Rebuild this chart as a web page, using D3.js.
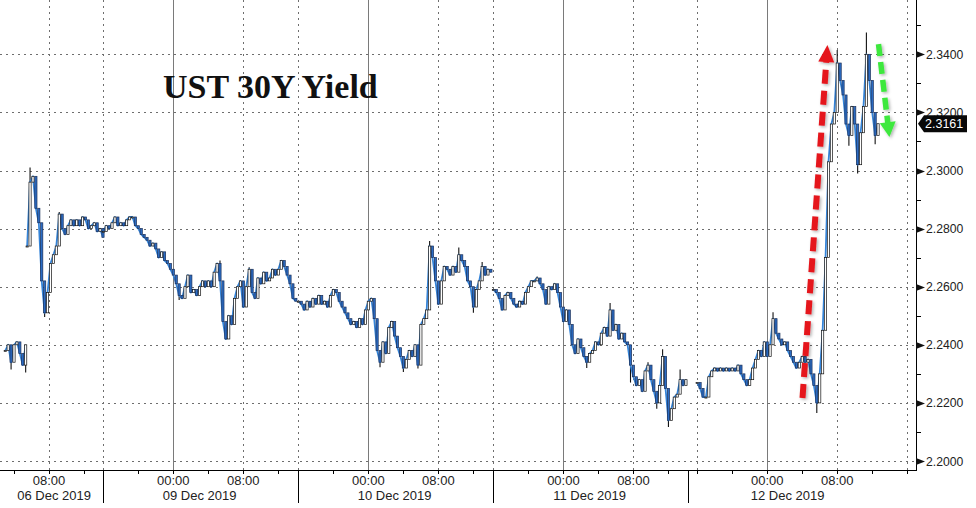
<!DOCTYPE html>
<html><head><meta charset="utf-8">
<script src="https://cdn.jsdelivr.net/npm/d3@7/dist/d3.min.js"></script>
<style>html,body{margin:0;padding:0;background:#fff;}svg{display:block;}</style>
</head><body>
<svg id="chart" width="976" height="508"></svg>
<script>
// ---------------- DATA ----------------
const title = "UST 30Y Yield";
const sessionDates = ["06 Dec 2019", "09 Dec 2019", "10 Dec 2019", "11 Dec 2019", "12 Dec 2019"];
const sessionOpen  = ["2019-12-06 02:24", "2019-12-08 16:00", "2019-12-09 16:00", "2019-12-10 16:00", "2019-12-11 15:00"];
const sessionClose = ["2019-12-06 14:12", "2019-12-09 14:17", "2019-12-10 14:17", "2019-12-11 14:17", "2019-12-12 17:00"];

const stepMinutes = 20;
const seriesStart = ["2019-12-06 03:00", "2019-12-06 05:30", "2019-12-08 16:00", "2019-12-09 16:00", "2019-12-10 16:00", "2019-12-11 16:00"];

const yieldDec06Early = [2.238, 2.240, 2.234, 2.240, 2.241, 2.237, 2.233, 2.240];
const yieldDec06 = [2.274, 2.296, 2.298, 2.287, 2.282, 2.262, 2.251, 2.258, 2.268, 2.271,
  2.274, 2.285, 2.280, 2.278, 2.281, 2.283, 2.281, 2.283, 2.281, 2.284,
  2.283, 2.280, 2.281, 2.282, 2.279, 2.280, 2.277];
const yieldDec09 = [2.279, 2.281, 2.280, 2.282, 2.284, 2.281, 2.282, 2.281, 2.283, 2.284,
  2.284, 2.281, 2.280, 2.278, 2.277, 2.276, 2.274, 2.275, 2.273, 2.270,
  2.272, 2.269, 2.268, 2.266, 2.264, 2.261, 2.257, 2.256, 2.260, 2.264,
  2.258, 2.259, 2.257, 2.260, 2.262, 2.260, 2.262, 2.260, 2.265, 2.268,
  2.262, 2.248, 2.242, 2.250, 2.247, 2.256, 2.260, 2.262, 2.253, 2.260,
  2.266, 2.258, 2.256, 2.263, 2.261, 2.265, 2.262, 2.263, 2.266, 2.264,
  2.266, 2.269, 2.267, 2.264, 2.261, 2.256, 2.255];
const yieldDec10 = [2.255, 2.254, 2.252, 2.255, 2.253, 2.256, 2.254, 2.257, 2.254, 2.255,
  2.253, 2.257, 2.259, 2.258, 2.255, 2.253, 2.251, 2.249, 2.247, 2.248,
  2.246, 2.249, 2.247, 2.252, 2.255, 2.256, 2.249, 2.238, 2.234, 2.241,
  2.237, 2.246, 2.248, 2.243, 2.239, 2.236, 2.232, 2.235, 2.238, 2.236,
  2.240, 2.233, 2.247, 2.249, 2.252, 2.274, 2.270, 2.262, 2.254, 2.262,
  2.267, 2.266, 2.264, 2.267, 2.265, 2.271, 2.269, 2.267, 2.262, 2.260,
  2.253, 2.259, 2.262, 2.267, 2.264, 2.266, 2.265];
const yieldDec11 = [2.259, 2.258, 2.256, 2.252, 2.257, 2.258, 2.256, 2.254, 2.253, 2.255,
  2.254, 2.258, 2.260, 2.262, 2.262, 2.263, 2.261, 2.259, 2.254, 2.260,
  2.259, 2.261, 2.258, 2.253, 2.248, 2.252, 2.247, 2.240, 2.237, 2.242,
  2.239, 2.236, 2.234, 2.237, 2.238, 2.241, 2.240, 2.244, 2.246, 2.243,
  2.252, 2.245, 2.247, 2.242, 2.244, 2.241, 2.240, 2.233, 2.229, 2.226,
  2.228, 2.224, 2.231, 2.233, 2.228, 2.224, 2.220, 2.226, 2.236, 2.225,
  2.214, 2.218, 2.222, 2.223, 2.228, 2.226, 2.228];
const yieldDec12 = [2.227, 2.225, 2.222, 2.222, 2.229, 2.231, 2.232, 2.231, 2.232, 2.231,
  2.232, 2.231, 2.232, 2.231, 2.233, 2.230, 2.228, 2.226, 2.228, 2.232,
  2.235, 2.238, 2.236, 2.241, 2.236, 2.240, 2.249, 2.244, 2.242, 2.240,
  2.241, 2.238, 2.236, 2.234, 2.232, 2.234, 2.236, 2.234, 2.235, 2.230,
  2.226, 2.220, 2.230, 2.245, 2.270, 2.303, 2.316, 2.320, 2.337, 2.331,
  2.326, 2.316, 2.312, 2.322, 2.316, 2.302, 2.313, 2.322, 2.340, 2.331,
  2.320, 2.312, 2.3161];
const seriesValues = [yieldDec06Early, yieldDec06, yieldDec09, yieldDec10, yieldDec11, yieldDec12];

// intrabar extremes (wicks)
const wickTimes = ["2019-12-06 03:40", "2019-12-06 05:20", "2019-12-06 05:50", "2019-12-06 07:30", "2019-12-06 09:10",
  "2019-12-09 00:40", "2019-12-09 05:20", "2019-12-09 06:00", "2019-12-09 08:40",
  "2019-12-10 01:20", "2019-12-10 04:00", "2019-12-10 05:40", "2019-12-10 07:00", "2019-12-10 10:20", "2019-12-10 12:00", "2019-12-10 13:00",
  "2019-12-10 21:00", "2019-12-11 02:40", "2019-12-11 05:20", "2019-12-11 07:40", "2019-12-11 09:40", "2019-12-11 10:40", "2019-12-11 11:20", "2019-12-11 12:00", "2019-12-11 13:20",
  "2019-12-12 00:40", "2019-12-12 05:40", "2019-12-12 08:00", "2019-12-12 09:20", "2019-12-12 10:20", "2019-12-12 11:20", "2019-12-12 12:20"];
const wickValues = [2.2315, 2.2305, 2.3010, 2.2496, 2.2857,
  2.2554, 2.2690, 2.2417, 2.2667,
  2.2323, 2.2306, 2.2318, 2.2757, 2.2735, 2.2510, 2.2685,
  2.2635, 2.2320, 2.2544, 2.2270, 2.2340, 2.2180, 2.2385, 2.2117, 2.2315,
  2.2512, 2.2165, 2.3415, 2.3085, 2.2990, 2.3475, 2.3090];

const yTicks = [2.20, 2.22, 2.24, 2.26, 2.28, 2.30, 2.32, 2.34];
const yMinorTicks = [2.21, 2.23, 2.25, 2.27, 2.29, 2.31, 2.33, 2.35];
const lastValue = 2.3161;

// annotation arrows (time, value)
const arrowUpFrom = ["2019-12-12 04:02", 2.2217];
const arrowUpTo   = ["2019-12-12 06:53", 2.3432];
const arrowDownFrom = ["2019-12-12 12:43", 2.3435];
const arrowDownTo   = ["2019-12-12 13:58", 2.3115];

// ---------------- SETUP ----------------
const plotRight = 916, plotBottom = 470;
const parse = d3.timeParse("%Y-%m-%d %H:%M");
const svg = d3.select("#chart");

const sessions = sessionDates.map((d, i) => ({date: d, open: parse(sessionOpen[i]), close: parse(sessionClose[i])}));
let acc = 0;
sessions.forEach(s => { s.offset = acc; acc += (s.close - s.open) / 36e5; });
const totalHours = acc;
function tradingHours(t) {
  for (const s of sessions) if (t >= s.open && t <= s.close) return s.offset + (t - s.open) / 36e5;
  return null;
}
const x = d3.scaleLinear().domain([0, totalHours]).range([0, plotRight]);
const y = d3.scaleLinear().domain([2.20, 2.34]).range([461, 54.3]);
const X = t => x(tradingHours(t));

const series = seriesValues.map((vals, si) => {
  const t0 = parse(seriesStart[si]);
  return vals.map((v, i) => {
    const t = d3.timeMinute.offset(t0, i * stepMinutes);
    return {t, v, px: X(t)};
  });
});

const defs = svg.append("defs");
const f = defs.append("filter").attr("id", "shadow").attr("x", "-50%").attr("y", "-10%").attr("width", "200%").attr("height", "120%");
f.append("feDropShadow").attr("dx", 1.5).attr("dy", 1.5).attr("stdDeviation", 1.6)
  .attr("flood-color", "#000").attr("flood-opacity", 0.3);

// ---------------- GRID ----------------
const grid = svg.append("g");
grid.selectAll("line.h").data(yTicks).join("line")
  .attr("x1", 0).attr("x2", plotRight)
  .attr("y1", d => Math.round(y(d)) + 0.5).attr("y2", d => Math.round(y(d)) + 0.5)
  .attr("stroke", "#6e6e6e").attr("stroke-width", 1).attr("stroke-dasharray", "2,4");

const allTicks = [];
sessions.forEach(s => {
  d3.timeHour.every(4).range(s.open, s.close).forEach(t => allTicks.push({t, px: X(t), h: t.getHours()}));
});
grid.selectAll("line.v").data(allTicks.filter(d => d.h % 8 === 0)).join("line")
  .attr("x1", d => Math.round(d.px) + 0.5).attr("x2", d => Math.round(d.px) + 0.5)
  .attr("y1", 0).attr("y2", plotBottom)
  .attr("stroke", d => d.h === 0 ? "#7a7a7a" : "#6e6e6e")
  .attr("stroke-width", 1)
  .attr("stroke-dasharray", d => d.h === 0 ? null : "2,4");

// ---------------- SERIES ----------------
const gS = svg.append("g");
// wicks
const byTime = new Map();
series.flat().forEach(d => byTime.set(+d.t, d));
const wicks = wickTimes.map((s, i) => {
  const t = parse(s);
  const base = byTime.get(+t);
  return {px: X(t), v0: base ? base.v : wickValues[i], v1: wickValues[i]};
});
gS.selectAll("line.w").data(wicks).join("line")
  .attr("x1", d => d.px).attr("x2", d => d.px)
  .attr("y1", d => y(d.v0)).attr("y2", d => y(d.v1))
  .attr("stroke", "#111").attr("stroke-width", 1.1);

const line = d3.line().x(d => d.px).y(d => y(d.v));
series.forEach(ser => {
  gS.append("path").datum(ser).attr("d", line)
    .attr("fill", "none").attr("stroke", "#3584d8").attr("stroke-width", 1.8).attr("stroke-linejoin", "round");
});
const candles = [];
series.forEach(ser => ser.forEach((d, i) => {
  const o = i > 0 ? ser[i - 1].v : d.v;
  candles.push({px: d.px, o, c: d.v});
}));
gS.selectAll("rect.c").data(candles).join("rect")
  .attr("x", d => d.px - 1.1).attr("width", 2.2)
  .attr("y", d => y(Math.max(d.o, d.c)))
  .attr("height", d => Math.max(1, Math.abs(y(d.o) - y(d.c))))
  .attr("fill", d => d.c >= d.o ? "#ffffff" : "#2b6cc4")
  .attr("stroke", d => d.c >= d.o ? "#111" : "#1a2f58")
  .attr("stroke-width", 0.7);

// ---------------- AXES ----------------
const ax = svg.append("g");
ax.append("line").attr("x1", 0).attr("x2", plotRight).attr("y1", plotBottom + 0.5).attr("y2", plotBottom + 0.5).attr("stroke", "#000");
ax.append("line").attr("x1", plotRight + 0.5).attr("x2", plotRight + 0.5).attr("y1", 0).attr("y2", plotBottom + 1).attr("stroke", "#000");

ax.selectAll("line.xt").data(allTicks).join("line")
  .attr("x1", d => Math.round(d.px) + 0.5).attr("x2", d => Math.round(d.px) + 0.5)
  .attr("y1", plotBottom).attr("y2", plotBottom + 4).attr("stroke", "#000");
ax.selectAll("line.sep").data(sessions.slice(1)).join("line")
  .attr("x1", d => Math.round(x(d.offset)) + 0.5).attr("x2", d => Math.round(x(d.offset)) + 0.5)
  .attr("y1", plotBottom).attr("y2", 503).attr("stroke", "#000");
ax.selectAll("text.tl").data(allTicks.filter(d => d.h === 0 || d.h === 8)).join("text")
  .attr("x", d => d.px).attr("y", 484.5).attr("text-anchor", "middle")
  .attr("font-family", "Liberation Sans, Arial, sans-serif").attr("font-size", 13).attr("fill", "#222")
  .text(d => d3.timeFormat("%H:%M")(d.t));
const sessionIndexOfSeries = series.map(ser => sessions.findIndex(s => ser[0].t >= s.open && ser[0].t <= s.close));
const dateLab = sessions.map((s, i) => {
  const pts = series.filter((ser, k) => sessionIndexOfSeries[k] === i).flat();
  const ext = d3.extent(pts, d => d.px);
  return {label: s.date, cx: (ext[0] + ext[1]) / 2};
});
ax.selectAll("text.dl").data(dateLab).join("text")
  .attr("x", d => d.cx).attr("y", 499.5).attr("text-anchor", "middle")
  .attr("font-family", "Liberation Sans, Arial, sans-serif").attr("font-size", 13).attr("fill", "#222")
  .text(d => d.label);

ax.selectAll("path.yt").data(yTicks).join("path")
  .attr("d", d => { const yy = Math.round(y(d)) + 0.5; return `M${plotRight},${yy - 3.5}L${plotRight + 9},${yy}L${plotRight},${yy + 3.5}Z`; })
  .attr("fill", "#111");
ax.selectAll("line.ym").data(yMinorTicks.filter(d => y(d) >= 0)).join("line")
  .attr("x1", plotRight).attr("x2", plotRight + 5)
  .attr("y1", d => Math.round(y(d)) + 0.5).attr("y2", d => Math.round(y(d)) + 0.5).attr("stroke", "#000");
ax.selectAll("text.yl").data(yTicks).join("text")
  .attr("x", plotRight + 10).attr("y", d => y(d) + 4.5)
  .attr("font-family", "Liberation Sans, Arial, sans-serif").attr("font-size", 12.2).attr("fill", "#222")
  .text(d => d3.format(".4f")(d));

const ly = y(lastValue);
const tag = svg.append("g");
tag.append("path")
  .attr("d", `M${plotRight + 2},${ly}L${plotRight + 8},${ly - 8.5}L967,${ly - 8.5}L967,${ly + 8.5}L${plotRight + 8},${ly + 8.5}Z`)
  .attr("fill", "#080808");
tag.append("text").attr("x", plotRight + 9).attr("y", ly + 4.6)
  .attr("font-family", "Liberation Sans, Arial, sans-serif").attr("font-size", 12.5).attr("fill", "#fff")
  .text(d3.format(".4f")(lastValue));

// ---------------- TITLE ----------------
svg.append("text").attr("x", 163).attr("y", 98)
  .attr("font-family", "Liberation Serif, Times New Roman, serif").attr("font-weight", "bold")
  .attr("font-size", 34).attr("fill", "#111").text(title);

// ---------------- ARROWS ----------------
function arrow(from, to, color, w, dash, headL, headW) {
  const p0 = [X(parse(from[0])), y(from[1])];
  const p1 = [X(parse(to[0])), y(to[1])];
  const dx = p1[0] - p0[0], dy = p1[1] - p0[1], len = Math.hypot(dx, dy);
  const ux = dx / len, uy = dy / len, nx = -uy, ny = ux;
  const b = [p1[0] - ux * headL, p1[1] - uy * headL];
  const g = svg.append("g").attr("filter", "url(#shadow)");
  g.append("line").attr("x1", p0[0]).attr("y1", p0[1]).attr("x2", b[0] + ux * 2).attr("y2", b[1] + uy * 2)
    .attr("stroke", color).attr("stroke-width", w).attr("stroke-dasharray", dash);
  g.append("path").attr("d", `M${p1[0]},${p1[1]}L${b[0] + nx * headW},${b[1] + ny * headW}L${b[0] - nx * headW},${b[1] - ny * headW}Z`)
    .attr("fill", color);
}
arrow(arrowUpFrom, arrowUpTo, "#e5161d", 6, "14,7", 17, 8);
arrow(arrowDownFrom, arrowDownTo, "#3de83d", 5.5, "12,6", 15, 8);
</script>
</body></html>
